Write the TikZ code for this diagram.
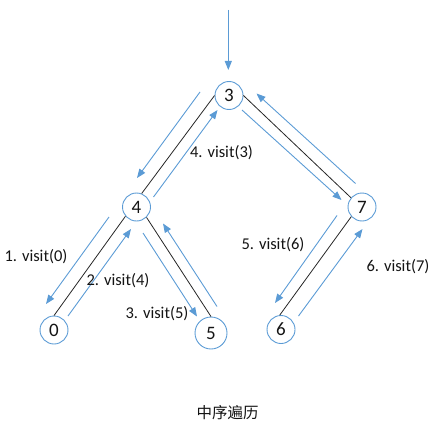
\documentclass[tikz,border=0pt]{standalone}
\usepackage{fontspec}
\setmainfont{Carlito}
\newfontfamily\cjk{Noto Sans CJK SC}
\usetikzlibrary{arrows.meta}
\definecolor{tblue}{RGB}{91,155,213}
\definecolor{txt}{RGB}{20,20,20}
\begin{document}
\begin{tikzpicture}[x=1pt,y=-1pt,
  tnode/.style={circle,draw=tblue,line width=0.9pt,minimum size=28pt,inner sep=0pt,text=txt,font=\fontsize{19}{22}\selectfont},
  edge/.style={draw=black!85,line width=0.8pt},
  flow/.style={draw=tblue,line width=0.9pt,-{Triangle[length=9pt,width=7pt]}},
  lab/.style={font=\fontsize{16.5}{19}\selectfont,inner sep=0pt,text=txt}]
\useasboundingbox (0,0) rectangle (438,433);
% nodes
\node[tnode] (n3) at (229,95.5) {3};
\node[tnode] (n4) at (136.5,207) {4};
\node[tnode] (n7) at (362,207) {7};
\node[tnode] (n0) at (54,330) {0};
\node[tnode,minimum size=32pt] (n5) at (211,333) {5};
\node[tnode] (n6) at (281,329.5) {6};
% tree edges
\draw[edge] (n3.west) -- (n4.69);
\draw[edge] (n3.east) -- (n7.140);
\draw[edge] (n4.220) -- (n0.90);
\draw[edge] (n4.-46) -- (n5.90);
\draw[edge] (n7.222) -- (n6.95);
% arrow end points
\coordinate (a0s) at (228.3,10);  \coordinate (a0e) at (228.3,70);
\coordinate (a1s) at (200,92);    \coordinate (a1e) at (137,178);
\coordinate (a2s) at (153.5,197); \coordinate (a2e) at (217.5,110);
\coordinate (a3s) at (242,110);   \coordinate (a3e) at (341.5,200);
\coordinate (a4s) at (355.5,183.5); \coordinate (a4e) at (256.5,93.5);
\coordinate (a5s) at (109,217);   \coordinate (a5e) at (46,304);
\coordinate (a6s) at (68,316);    \coordinate (a6e) at (131,229);
\coordinate (a7s) at (143,233);   \coordinate (a7e) at (197,316.5);
\coordinate (a8s) at (217,306.5); \coordinate (a8e) at (163,223.5);
\coordinate (a9s) at (337,215.5); \coordinate (a9e) at (275,303);
\coordinate (a10s) at (298.5,316); \coordinate (a10e) at (362.5,229);
% traversal arrows
\draw[flow] (a0s) -- (a0e);
\draw[flow] (a1s) -- (a1e);
\draw[flow] (a2s) -- (a2e);
\draw[flow] (a3s) -- (a3e);
\draw[flow] (a4s) -- (a4e);
\draw[flow] (a5s) -- (a5e);
\draw[flow] (a6s) -- (a6e);
\draw[flow] (a7s) -- (a7e);
\draw[flow] (a8s) -- (a8e);
\draw[flow] (a9s) -- (a9e);
\draw[flow] (a10s) -- (a10e);
% labels
\node[lab] (l4) at (221.5,153) {4. visit(3)};
\node[lab] (l1) at (36,256.5) {1. visit(0)};
\node[lab] (l2) at (118,280.5) {2. visit(4)};
\node[lab] (l3) at (157,313.5) {3. visit(5)};
\node[lab] (l5) at (273,245) {5. visit(6)};
\node[lab] (l6) at (398,266.5) {6. visit(7)};
\node[inner sep=0pt,text=txt,font=\cjk\fontsize{15.5}{18}\selectfont] (cap) at (227.5,413) {中序遍历};
\end{tikzpicture}
\end{document}
